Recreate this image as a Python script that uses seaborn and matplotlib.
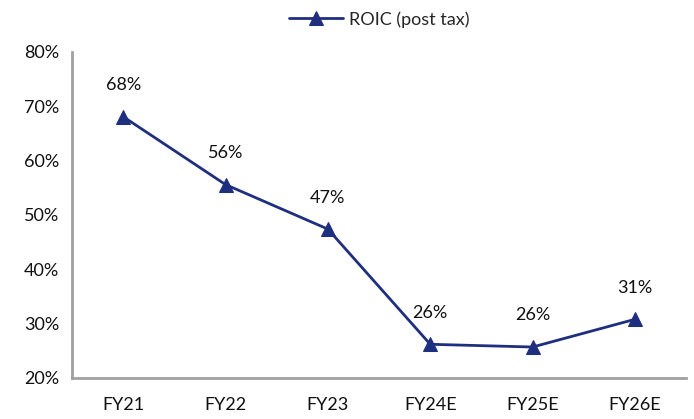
import matplotlib
matplotlib.use("Agg")
import matplotlib.pyplot as plt
import seaborn as sns
import pandas as pd
import numpy as np
from matplotlib.ticker import FixedLocator, NullFormatter

years = ["FY21", "FY22", "FY23", "FY24E", "FY25E", "FY26E"]
roic = [68.1, 55.6, 47.4, 26.2, 25.7, 30.8]
y_ticks = [20, 30, 40, 50, 60, 70, 80]
series_name = "ROIC (post tax)"

sns.set_theme(style="white")
plt.rcParams["font.family"] = ["Lato", "DejaVu Sans"]

line_color = "#1F2F7F"
spine_color = "#A0A0A0"
fs = 13

df = pd.DataFrame({"pos": np.arange(len(years)), "year": years, "value": roic})

fig = plt.figure(figsize=(6.94, 4.19), dpi=100)
ax = fig.add_axes([0.1037, 0.0979, 0.885, 0.778])

sns.lineplot(data=df, x="pos", y="value", ax=ax, color=line_color, linewidth=2,
             marker="^", markersize=10, markeredgecolor=line_color,
             label=series_name)

for x, v in zip(df["pos"], df["value"]):
    ax.annotate(f"{v:.0f}%", (x, v), xytext=(0, 17), textcoords="offset points",
                ha="center", va="bottom", fontsize=fs, color="#111111")

ax.set_xlim(-0.5, len(years) - 0.5)
ax.set_ylim(20, 80)
ax.set_yticks(y_ticks)
ax.set_yticklabels([f"{t}%" for t in y_ticks], fontsize=fs, color="#111111")

ax.set_xticks(df["pos"])
ax.set_xticklabels(years, fontsize=fs, color="#111111")
ax.xaxis.set_minor_locator(FixedLocator(np.arange(-0.5, len(years), 1.0)))
ax.xaxis.set_minor_formatter(NullFormatter())
ax.tick_params(axis="x", which="major", length=0, pad=14)
ax.tick_params(axis="x", which="minor", length=5, width=2, color=spine_color, direction="out")
ax.tick_params(axis="y", which="major", length=5, width=2, color=spine_color, direction="out", pad=4)

ax.set_xlabel("")
ax.set_ylabel("")
for side in ["top", "right"]:
    ax.spines[side].set_visible(False)
for side in ["left", "bottom"]:
    ax.spines[side].set_color(spine_color)
    ax.spines[side].set_linewidth(2)

ax.legend(loc="upper center", bbox_to_anchor=(0.5, 1.175), frameon=False,
          fontsize=fs, handlelength=3, handletextpad=0.3)

fig.savefig("out.png", dpi=100)
